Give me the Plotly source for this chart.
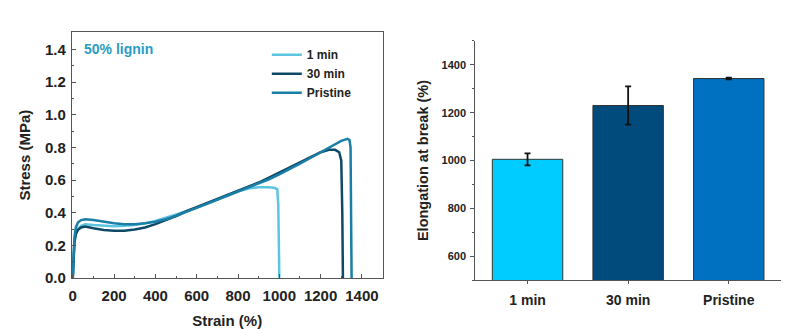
import plotly.graph_objects as go

# ---------------- data ----------------
strain_1min = [0, 3, 8, 15, 25, 40, 60, 100, 150, 200, 250, 300, 350, 400, 450, 500, 550, 600,
               650, 700, 750, 800, 850, 900, 950, 975, 990, 995, 998, 1000]
stress_1min = [0, 0.12, 0.22, 0.27, 0.30, 0.32, 0.33, 0.325, 0.32, 0.318, 0.32, 0.325, 0.335, 0.35,
               0.37, 0.39, 0.41, 0.43, 0.455, 0.48, 0.505, 0.53, 0.548, 0.556, 0.556, 0.553, 0.545,
               0.45, 0.2, 0]

strain_30min = [0, 3, 8, 15, 25, 40, 60, 100, 150, 200, 250, 300, 350, 400, 450, 500, 550, 600,
                650, 700, 750, 800, 850, 900, 950, 1000, 1050, 1100, 1150, 1200, 1240, 1270, 1290,
                1300, 1305, 1308]
stress_30min = [0, 0.12, 0.22, 0.27, 0.295, 0.31, 0.315, 0.305, 0.295, 0.29, 0.29, 0.297, 0.31,
                0.33, 0.355, 0.38, 0.41, 0.435, 0.46, 0.485, 0.51, 0.535, 0.56, 0.585, 0.615, 0.645,
                0.68, 0.71, 0.74, 0.77, 0.785, 0.785, 0.77, 0.72, 0.4, 0]

strain_pristine = [0, 3, 8, 15, 25, 40, 60, 100, 150, 200, 250, 300, 350, 400, 450, 500, 550, 600,
                   650, 700, 750, 800, 850, 900, 950, 1000, 1050, 1100, 1150, 1200, 1250, 1300,
                   1330, 1340, 1345, 1348, 1350]
stress_pristine = [0, 0.14, 0.25, 0.31, 0.34, 0.355, 0.36, 0.355, 0.345, 0.335, 0.33, 0.33, 0.335,
                   0.345, 0.36, 0.38, 0.405, 0.43, 0.455, 0.48, 0.505, 0.53, 0.555, 0.58, 0.605,
                   0.635, 0.665, 0.70, 0.735, 0.77, 0.81, 0.84, 0.852, 0.845, 0.8, 0.4, 0]

categories = ["1 min", "30 min", "Pristine"]
elongation = [1005, 1230, 1343]
elongation_err = [25, 80, 4]

curve_colors = ["#5CC5E2", "#0E4A66", "#1A7EA6"]
bar_colors = ["#00CCFF", "#004A7C", "#0070C0"]

FONT = "Liberation Sans, Arial, sans-serif"

fig = go.Figure()

curves = [("1 min", strain_1min, stress_1min),
          ("30 min", strain_30min, stress_30min),
          ("Pristine", strain_pristine, stress_pristine)]
for (name, xs, ys), c in zip(curves, curve_colors):
    fig.add_trace(go.Scatter(x=xs, y=ys, mode="lines", name=name,
                             line=dict(color=c, width=2.5),
                             xaxis="x", yaxis="y"))

fig.add_trace(go.Bar(x=categories, y=elongation, marker=dict(color=bar_colors,
                     line=dict(color="#333333", width=1)),
                     width=0.7, showlegend=False,
                     error_y=dict(type="data", array=elongation_err, color="#111111",
                                  thickness=1.8, width=3),
                     xaxis="x2", yaxis="y2"))

axis_font = dict(family=FONT, size=15, color="#222222", weight="bold")

fig.update_layout(
    width=800, height=329,
    margin=dict(l=0, r=0, t=0, b=0),
    paper_bgcolor="white", plot_bgcolor="white",
    font=dict(family=FONT, color="#222222"),
    xaxis=dict(domain=[0.08625, 0.47625], range=[-5, 1500],
               tickvals=[0, 200, 400, 600, 800, 1000, 1200, 1400],
               ticks="inside", ticklen=4, tickcolor="#555555",
               minor=dict(ticks="inside", ticklen=2, dtick=100, tickcolor="#555555"),
               showline=True, linecolor="#555555", linewidth=1, mirror=True,
               showgrid=False, zeroline=False,
               tickfont=axis_font, ticklabelstandoff=4,
               title=dict(text="Strain (%)", font=dict(family=FONT, size=15, weight="bold"),
                          standoff=14),
               anchor="y"),
    yaxis=dict(domain=[0.1337, 0.8997], range=[0, 1.505],
               tickvals=[0, 0.2, 0.4, 0.6, 0.8, 1.0, 1.2, 1.4], tickformat=".1f",
               ticks="inside", ticklen=4, tickcolor="#555555",
               minor=dict(ticks="inside", ticklen=2, dtick=0.1, tickcolor="#555555"),
               showline=True, linecolor="#555555", linewidth=1, mirror=True,
               showgrid=False, zeroline=False,
               tickfont=axis_font, ticklabelstandoff=2,
               title=dict(text="Stress (MPa)", font=dict(family=FONT, size=15, weight="bold"),
                          standoff=10),
               anchor="x"),
    xaxis2=dict(domain=[0.5925, 0.97625], range=[-0.52, 2.52],
                ticks="outside", ticklen=3, tickcolor="#555555",
                showline=True, linecolor="#555555", linewidth=1,
                showgrid=False, zeroline=False,
                tickfont=dict(family=FONT, size=14, color="#222222", weight="bold"),
                ticklabelstandoff=4,
                anchor="y2"),
    yaxis2=dict(domain=[0.1277, 0.8723], range=[500, 1500],
                tickvals=[600, 800, 1000, 1200, 1400],
                ticks="outside", ticklen=4, tickcolor="#555555",
                minor=dict(ticks="outside", ticklen=2, dtick=100, tickcolor="#555555"),
                showline=True, linecolor="#555555", linewidth=1,
                showgrid=False, zeroline=False,
                tickfont=dict(family=FONT, size=11, color="#222222", weight="bold"),
                ticklabelstandoff=2,
                title=dict(text="Elongation at break (%)",
                           font=dict(family=FONT, size=14.5, weight="bold"), standoff=9),
                anchor="x2"),
    legend=dict(x=0.331, y=0.875, xanchor="left", yanchor="top",
                bgcolor="rgba(0,0,0,0)", borderwidth=0,
                font=dict(family=FONT, size=12, color="#222222", weight="bold"),
                tracegroupgap=0, itemwidth=30),
    annotations=[dict(text="50% lignin", x=0.099, y=1 - 50 / 329, xref="paper", yref="paper",
                      xanchor="left", yanchor="middle", showarrow=False,
                      font=dict(family=FONT, size=14, color="#2A9CC4", weight="bold"))],
    bargap=0.3,
)

fig.write_html("out.html")
